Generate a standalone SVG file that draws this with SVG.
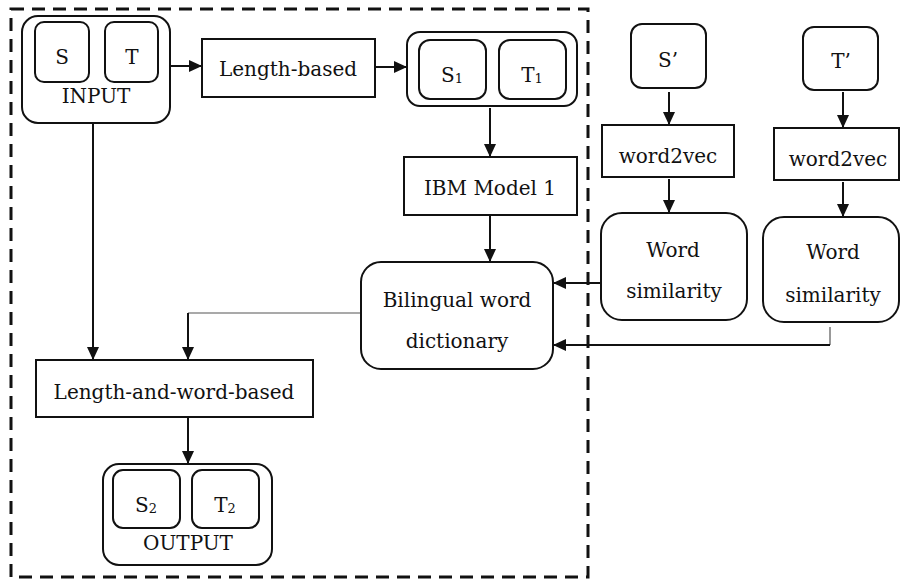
<svg xmlns="http://www.w3.org/2000/svg" width="901" height="581" viewBox="0 0 901 581">
<style>
  text { font-family: "DejaVu Serif", "Liberation Serif", serif; font-size: 20px; fill: #111; text-anchor: middle; }
  .box { fill: #fff; stroke: #111; stroke-width: 2; }
  .line { fill: none; stroke: #111; stroke-width: 2; }
  .thin { fill: none; stroke: #555; stroke-width: 1.2; }
  .frame { fill: none; stroke: #111; stroke-width: 3; stroke-dasharray: 13 8; }
  .sub { font-size: 13px; }
</style>
<defs>
  <marker id="arr" markerUnits="userSpaceOnUse" markerWidth="14" markerHeight="14" viewBox="0 0 14 14" refX="13" refY="7" orient="auto">
    <path d="M0,1 L13,7 L0,13 Z" fill="#111"/>
  </marker>
</defs>
<rect class="frame" x="11" y="9" width="577" height="568"/>

<g id="connectors">
  <path class="line" d="M170,66 H202" marker-end="url(#arr)"/>
  <path class="line" d="M375,67 H407" marker-end="url(#arr)"/>
  <path class="line" d="M490,108 V157" marker-end="url(#arr)"/>
  <path class="line" d="M490,215 V262" marker-end="url(#arr)"/>
  <path class="line" d="M93,123 V360" marker-end="url(#arr)"/>
  <path class="thin" d="M361,313 H188"/>
  <path class="line" d="M188,313 V360" marker-end="url(#arr)"/>
  <path class="line" d="M188,417 V464" marker-end="url(#arr)"/>
  <path class="line" d="M669,92 V125" marker-end="url(#arr)"/>
  <path class="line" d="M669,179 V213" marker-end="url(#arr)"/>
  <path class="line" d="M843,92 V128" marker-end="url(#arr)"/>
  <path class="line" d="M843,182 V217" marker-end="url(#arr)"/>
  <path class="line" d="M601,283 H553" marker-end="url(#arr)"/>
  <path class="thin" d="M830,327 V345"/>
  <path class="line" d="M830,345 H553" stroke="#333" stroke-width="1.6" marker-end="url(#arr)"/>
</g>

<g id="input">
  <rect class="box" x="22" y="16" width="148" height="107" rx="16"/>
  <rect class="box" x="35" y="22" width="54" height="60" rx="9"/>
  <rect class="box" x="105" y="22" width="53" height="60" rx="9"/>
  <text x="62" y="64">S</text>
  <text x="132" y="64">T</text>
  <text x="96" y="103">INPUT</text>
</g>

<g id="length-based">
  <rect class="box" x="202" y="39" width="173" height="58"/>
  <text x="288" y="76">Length-based</text>
</g>

<g id="s1t1">
  <rect class="box" x="407" y="32" width="170" height="74" rx="13"/>
  <rect class="box" x="419" y="40" width="67" height="59" rx="11"/>
  <rect class="box" x="499" y="40" width="67" height="59" rx="11"/>
  <text x="452" y="82">S<tspan class="sub" dy="1">1</tspan></text>
  <text x="532" y="82">T<tspan class="sub" dy="1">1</tspan></text>
</g>

<g id="ibm">
  <rect class="box" x="404" y="157" width="173" height="58"/>
  <text x="490" y="195">IBM Model 1</text>
</g>

<g id="bilingual">
  <rect class="box" x="361" y="262" width="192" height="107" rx="20"/>
  <text x="457" y="307">Bilingual word</text>
  <text x="457" y="348">dictionary</text>
</g>

<g id="length-and-word">
  <rect class="box" x="36" y="360" width="277" height="57"/>
  <text x="174" y="399">Length-and-word-based</text>
</g>

<g id="output">
  <rect class="box" x="103" y="464" width="169" height="101" rx="16"/>
  <rect class="box" x="113" y="470" width="67" height="58" rx="10"/>
  <rect class="box" x="192" y="470" width="67" height="58" rx="10"/>
  <text x="146" y="512">S<tspan class="sub" dy="1">2</tspan></text>
  <text x="225" y="512">T<tspan class="sub" dy="1">2</tspan></text>
  <text x="188" y="550">OUTPUT</text>
</g>

<g id="s-prime">
  <rect class="box" x="631" y="24" width="75" height="64" rx="11"/>
  <text x="668" y="67">S’</text>
</g>

<g id="t-prime">
  <rect class="box" x="803" y="27" width="75" height="63" rx="11"/>
  <text x="841" y="68">T’</text>
</g>

<g id="word2vec-left">
  <rect class="box" x="602" y="125" width="132" height="52"/>
  <text x="668" y="163">word2vec</text>
</g>

<g id="word2vec-right">
  <rect class="box" x="774" y="128" width="125" height="52"/>
  <text x="838" y="166">word2vec</text>
</g>

<g id="wordsim-left">
  <rect class="box" x="601" y="213" width="146" height="107" rx="21"/>
  <text x="673" y="257">Word</text>
  <text x="674" y="298">similarity</text>
</g>

<g id="wordsim-right">
  <rect class="box" x="763" y="217" width="136" height="105" rx="21"/>
  <text x="833" y="259">Word</text>
  <text x="833" y="302">similarity</text>
</g>
</svg>
